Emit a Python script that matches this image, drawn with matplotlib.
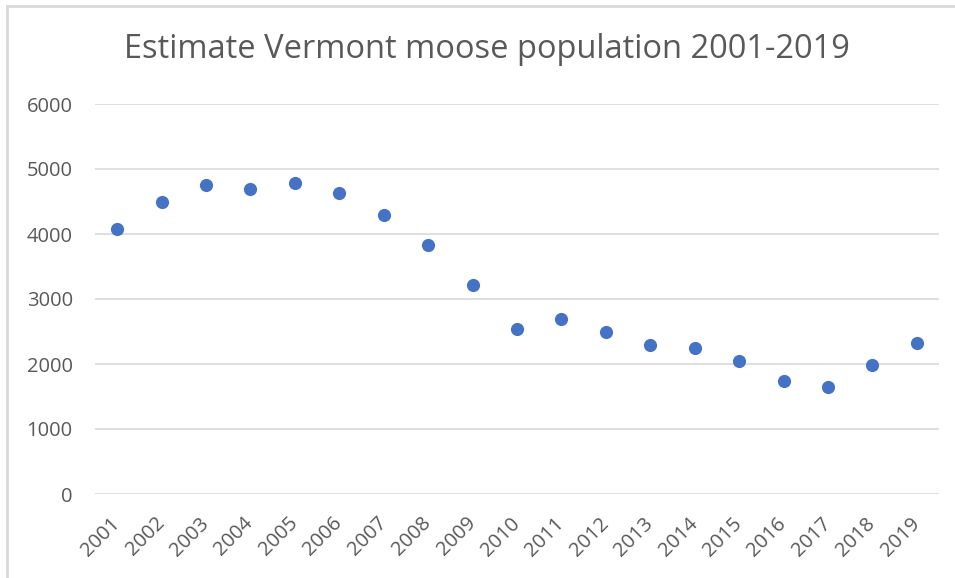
import matplotlib.pyplot as plt
from matplotlib.lines import Line2D

years = ["2001", "2002", "2003", "2004", "2005", "2006", "2007", "2008", "2009", "2010",
         "2011", "2012", "2013", "2014", "2015", "2016", "2017", "2018", "2019"]
population = [4080, 4490, 4760, 4690, 4790, 4630, 4300, 3830, 3220, 2540,
              2690, 2490, 2300, 2240, 2050, 1740, 1650, 1990, 2330]
y_ticks = [0, 1000, 2000, 3000, 4000, 5000, 6000]

plt.rcParams['font.family'] = ['Open Sans', 'DejaVu Sans']
text_color = '#595959'
grid_color = '#D9D9D9'

fig = plt.figure(figsize=(9.55, 5.78), dpi=100)
ax = fig.add_axes([95/955, 1 - 494/578, (939 - 95)/955, (494 - 104)/578])

x = list(range(1, len(years) + 1))
ax.scatter(x, population, s=90, color='#4472C4', zorder=3, linewidths=0)

ax.set_xlim(0.5, len(years) + 0.5)
ax.set_ylim(0, 6000)
ax.set_yticks(y_ticks)
ax.set_yticklabels([str(t) for t in y_ticks])
ax.set_xticks(x)
ax.set_xticklabels(years, rotation=45, ha='right', va='center', rotation_mode='anchor')

ax.grid(axis='y', color=grid_color, linewidth=1.2)
ax.set_axisbelow(True)
for s in ax.spines.values():
    s.set_visible(False)
ax.tick_params(axis='both', length=0, labelsize=14.5, colors=text_color)
ax.tick_params(axis='y', pad=16)
ax.tick_params(axis='x', pad=19)

fig.text(487/955, 1 - 49/578, "Estimate Vermont moose population 2001-2019",
         ha='center', va='center', fontsize=23.5, color=text_color)

# chart frame (top and left edges visible)
fig.add_artist(Line2D([7/955, 1], [1 - 6/578, 1 - 6/578], color=grid_color, linewidth=2))
fig.add_artist(Line2D([7/955, 7/955], [0, 1 - 6/578], color=grid_color, linewidth=2))

fig.savefig('out.png', dpi=100)
